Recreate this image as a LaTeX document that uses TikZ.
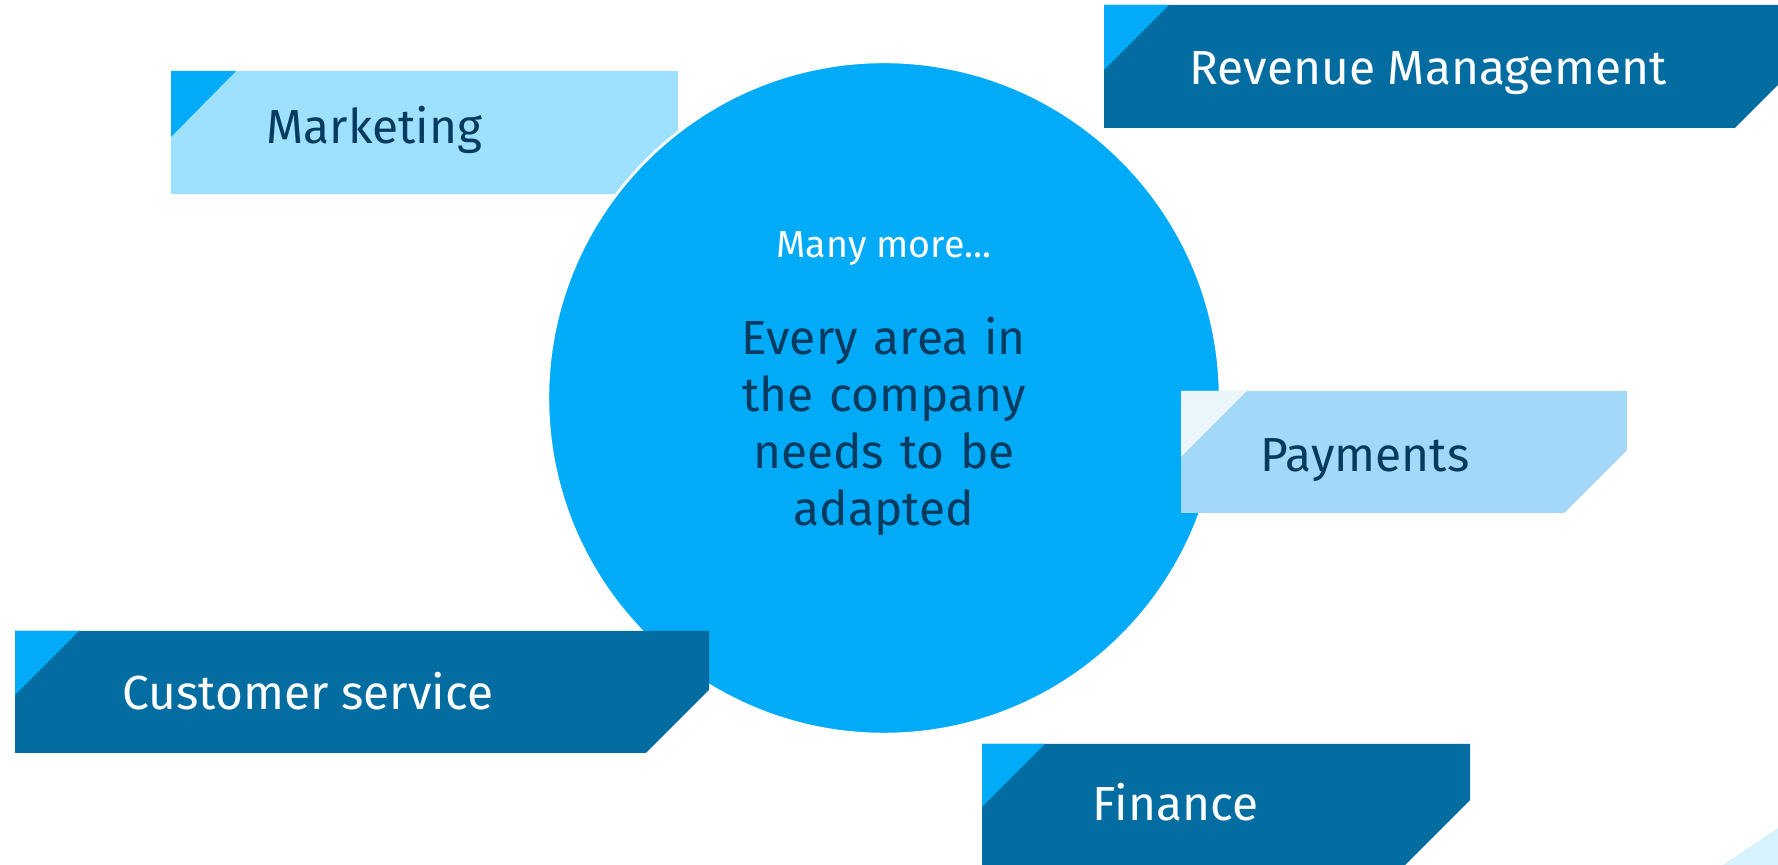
\documentclass[tikz,border=0pt]{standalone}
\usepackage{fontspec}
\setmainfont{Fira Sans}
\definecolor{sky}{HTML}{02ABF8}
\definecolor{ocean}{HTML}{036DA2}
\definecolor{pale}{HTML}{9DE1FF}
\definecolor{mist}{HTML}{A3D8F8}
\definecolor{frost}{HTML}{EAF6FC}
\definecolor{ice}{HTML}{D6F2FD}
\definecolor{navy}{HTML}{063B5F}
\begin{document}
\begin{tikzpicture}[x=0.01cm, y=-0.01cm,
  tag/.style={anchor=base west, inner sep=0pt, font=\fontsize{13.6}{16}\selectfont},
  darktag/.style={tag, text=navy},
  lighttag/.style={tag, text=white}]
\fill[white] (0,0) rectangle (1778,865);
\useasboundingbox (0,0) rectangle (1778,865);

\fill[pale] (171,71) rectangle (678,194);
\fill[sky] (171,71) -- (236,71) -- (171,137) -- cycle;
\node[darktag] (marketing) at (266,144) {Marketing};

\node[circle, fill=sky, draw=white, line width=0.8pt, minimum size=6.72cm, inner sep=0pt] (hub) at (884,398) {};
\node[anchor=base, inner sep=0pt, text=white, font=\fontsize{10.7}{13}\selectfont] (more) at (884,258) {Many more...};
\node[anchor=base, inner sep=0pt, text=navy, text width=4cm, align=center, font=\fontsize{13.6}{16.2}\selectfont] (every) at (884,355)
  {Every area in\\the company\\needs to be\\adapted};

\fill[ocean] (1104,5) -- (1778,5) -- (1778,85) -- (1735,128) -- (1104,128) -- cycle;
\fill[sky] (1104,5) -- (1169,5) -- (1104,70) -- cycle;
\node[lighttag] (revenue) at (1189,85) {Revenue Management};

\fill[mist] (1181,391) -- (1627,391) -- (1627,450) -- (1564,513) -- (1181,513) -- cycle;
\fill[frost] (1181,391) -- (1247,391) -- (1181,457) -- cycle;
\node[darktag] (payments) at (1260,472) {Payments};

\fill[ocean] (15,631) -- (709,631) -- (709,690) -- (646,753) -- (15,753) -- cycle;
\fill[sky] (15,631) -- (79,631) -- (15,695) -- cycle;
\node[lighttag] (service) at (122,710) {Customer service};

\fill[ocean] (982,744) -- (1470,744) -- (1470,800) -- (1405,865) -- (982,865) -- cycle;
\fill[sky] (982,744) -- (1045,744) -- (982,807) -- cycle;
\node[lighttag] (finance) at (1092,821) {Finance};

\fill[ice] (1723,865) -- (1778,828) -- (1778,865) -- cycle;
\end{tikzpicture}
\end{document}
